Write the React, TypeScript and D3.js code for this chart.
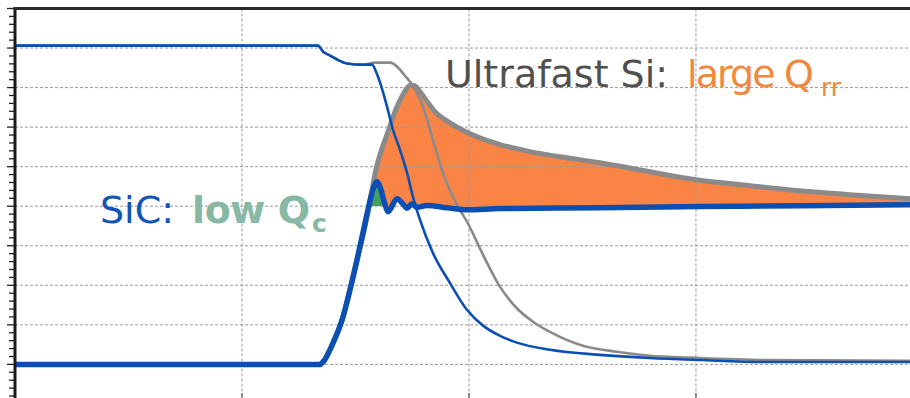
import React from 'react';
import * as d3 from 'd3';

// time in ns (100 ns / div), values in divisions
const sicVoltT = [0, 133.5, 135.7, 138.8, 141.9, 146.3, 153.3, 157.3, 159.0, 160.8, 163.9, 166.5, 169.6, 172.7, 175.3, 178.4, 184.1, 191.6, 199.1, 206.2, 213.7, 221.1, 235.7, 257.7, 279.7, 301.8, 331.3, 394.3];
const sicVoltV = [8.06, 8.06, 7.91, 7.81, 7.71, 7.61, 7.58, 7.58, 7.41, 7.13, 6.52, 5.94, 5.43, 4.85, 4.24, 3.66, 2.82, 2.06, 1.38, 0.98, 0.72, 0.55, 0.37, 0.24, 0.16, 0.11, 0.06, 0.06];

const siVoltT = [0, 133.5, 135.7, 138.8, 141.9, 146.3, 153.3, 158.6, 165.2, 168.7, 171.8, 174.9, 177.5, 179.7, 184.1, 188.5, 192.9, 196.0, 199.1, 206.2, 213.7, 221.1, 228.2, 235.7, 250.2, 265.2, 279.7, 298.7, 331.3, 394.3];
const siVoltV = [8.06, 8.06, 7.91, 7.81, 7.71, 7.61, 7.58, 7.63, 7.63, 7.51, 7.30, 7.08, 6.82, 6.52, 5.68, 4.85, 4.24, 3.91, 3.61, 2.77, 1.96, 1.42, 1.08, 0.82, 0.47, 0.32, 0.22, 0.17, 0.11, 0.09];

const siCurrT = [0, 134.4, 135.7, 140.1, 144.5, 147.6, 150.7, 153.3, 155.5, 157.3, 159.0, 160.8, 163.9, 167.4, 170.9, 174.0, 175.8, 178.4, 181.9, 185.0, 189.4, 196.0, 202.6, 213.7, 226.9, 240.1, 257.7, 279.7, 300.0, 323.8, 345.8, 367.8, 394.3];
const siCurrV = [0, 0, 0.06, 0.54, 1.20, 1.89, 2.65, 3.25, 3.86, 4.42, 4.92, 5.30, 5.81, 6.39, 6.82, 7.05, 7.05, 6.90, 6.62, 6.39, 6.19, 5.96, 5.78, 5.56, 5.38, 5.25, 5.10, 4.87, 4.67, 4.52, 4.39, 4.29, 4.19];

const sicCurrT = [0, 134.4, 135.7, 140.1, 144.5, 147.6, 150.7, 153.3, 155.5, 157.7, 159.5, 160.8, 163.0, 164.3, 168.3, 170.9, 172.7, 174.9, 177.1, 181.5, 190.3, 199.1, 213.7, 257.7, 301.8, 345.8, 394.3];
const sicCurrV = [0, 0, 0.06, 0.54, 1.20, 1.89, 2.65, 3.33, 3.91, 4.42, 4.62, 4.49, 4.04, 3.86, 4.19, 4.06, 3.95, 4.06, 3.97, 4.02, 3.96, 3.91, 3.94, 3.96, 3.99, 4.01, 4.04];

const onLevel = 4.0;
const greenWindow = [154, 164];
const xGrid = [100, 200, 300];
const yGrid = [0, 1, 2, 3, 4, 5, 6, 7, 8];

const BLUE = '#0c4fb2';
const GRAY = '#8a8a8a';
const ORANGE = '#fa8445';
const GREEN = '#44a060';

type P = [number, number];
const zip = (t: number[], v: number[]): P[] => t.map((d, i) => [d, v[i]]);

export default function App() {
  const W = 910, H = 398;
  const x = d3.scaleLinear().domain([0, 394.3]).range([15, 910]);
  const y = d3.scaleLinear().domain([-0.85, 9]).range([398, 8.5]);

  const sicV = zip(sicVoltT, sicVoltV);
  const siV = zip(siVoltT, siVoltV);
  const siI = zip(siCurrT, siCurrV);
  const sicI = zip(sicCurrT, sicCurrV);

  const line = d3.line<P>().x(d => x(d[0])).y(d => y(d[1])).curve(d3.curveMonotoneX);
  const aboveBlue = d3.area<P>().x(d => x(d[0])).y0(y(9.5)).y1(d => y(d[1])).curve(d3.curveMonotoneX);
  const underGray = d3.area<P>().x(d => x(d[0])).y0(y(0)).y1(d => y(d[1])).curve(d3.curveMonotoneX);
  const greenArea = d3.area<P>().x(d => x(d[0])).y0(y(onLevel)).y1(d => y(d[1])).curve(d3.curveMonotoneX);

  const ticks: number[] = [];
  for (let k = -4; k <= 45; k++) ticks.push(k * 0.2);

  const font = '"DejaVu Sans", Verdana, sans-serif';

  return (
    <svg width={W} height={H} style={{ position: 'absolute', left: 0, top: 0, background: '#fff' }}>
      <defs>
        <clipPath id="aboveBlue"><path d={aboveBlue(sicI) || ''} /></clipPath>
        <clipPath id="greenWin">
          <rect x={x(greenWindow[0])} y={0} width={x(greenWindow[1]) - x(greenWindow[0])} height={y(onLevel)} />
        </clipPath>
        <clipPath id="plot"><rect x={15} y={8.5} width={W - 15} height={H - 8.5} /></clipPath>
      </defs>
      <rect x={0} y={0} width={W} height={H} fill="#fff" />

      <g clipPath="url(#plot)">
        <path d={underGray(siI) || ''} fill={ORANGE} clipPath="url(#aboveBlue)" />
        <path d={greenArea(sicI) || ''} fill={GREEN} clipPath="url(#greenWin)" />

        {yGrid.map(v => (
          <line key={'h' + v} x1={15} x2={W} y1={y(v)} y2={y(v)} stroke="#9a9a9a" strokeWidth={1} strokeDasharray="3,2" />
        ))}
        {xGrid.map(t => (
          <line key={'v' + t} x1={x(t)} x2={x(t)} y1={8.5} y2={H} stroke="#9a9a9a" strokeWidth={1} strokeDasharray="3,2" />
        ))}
        {xGrid.map(t => (
          <line key={'vt' + t} x1={x(t)} x2={x(t)} y1={H - 5} y2={H} stroke="#555" strokeWidth={1.2} />
        ))}

        <path d={line(siI) || ''} fill="none" stroke={GRAY} strokeWidth={5} strokeLinejoin="round" />
        <path d={line(siV) || ''} fill="none" stroke={GRAY} strokeWidth={2.6} strokeLinejoin="round" />
        <path d={line(sicI) || ''} fill="none" stroke={BLUE} strokeWidth={5.5} strokeLinejoin="round" />
        <path d={line(sicV) || ''} fill="none" stroke={BLUE} strokeWidth={2.6} strokeLinejoin="round" />
      </g>

      {ticks.map(v => {
        const major = Math.abs(v - Math.round(v)) < 1e-6;
        return <line key={'t' + v} x1={major ? 7 : 9} x2={15} y1={y(v)} y2={y(v)} stroke="#222" strokeWidth={1.3} />;
      })}
      <line x1={15} x2={15} y1={7} y2={H} stroke="#1a1a1a" strokeWidth={3} />
      <line x1={13.5} x2={W} y1={8.5} y2={8.5} stroke="#2a2a2a" strokeWidth={3} />

      <text y={87} fontFamily={font} fontSize={38} fill="#4f4f4f">
        <tspan x={445}>Ultrafast Si:</tspan>
        <tspan x={687} fill="#f0883e" letterSpacing={-1.9}>large Q</tspan>
        <tspan x={821} y={96} fontSize={25} fill="#f0883e">rr</tspan>
      </text>
      <text y={223} fontFamily={font} fontSize={38} fill="#1155b5">
        <tspan x={100}>SiC:</tspan>
        <tspan x={192} fill="#86b8a4" fontWeight="bold" letterSpacing={-0.4}>low Q</tspan>
        <tspan x={312} y={232} fontSize={25} fill="#86b8a4" fontWeight="bold">c</tspan>
      </text>
    </svg>
  );
}
